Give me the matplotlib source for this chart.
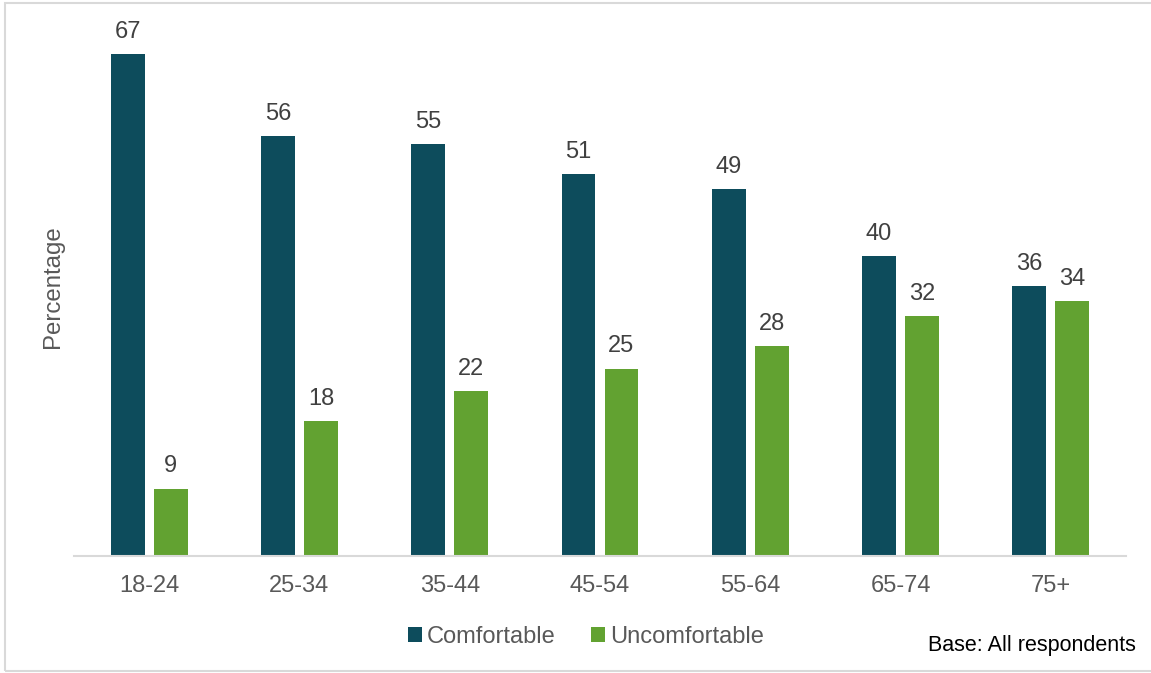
import matplotlib
matplotlib.use("Agg")
import matplotlib.pyplot as plt
from matplotlib.patches import Rectangle
import numpy as np

categories = ["18-24", "25-34", "35-44", "45-54", "55-64", "65-74", "75+"]
comfortable = [67, 56, 55, 51, 49, 40, 36]
uncomfortable = [9, 18, 22, 25, 28, 32, 34]
series_names = ["Comfortable", "Uncomfortable"]
colors = ["#0D4C5C", "#62A231"]

plt.rcParams['font.family'] = ['Liberation Sans', 'DejaVu Sans']

W, H = 1151, 673
fig = plt.figure(figsize=(W/100, H/100), dpi=100)
ax = fig.add_axes([74/W, 1-556/H, (1126-74)/W, (556-20.8)/H])

x = np.arange(len(categories))
off = 0.143
bw = 0.226
b1 = ax.bar(x - off, comfortable, bw, color=colors[0], label=series_names[0])
b2 = ax.bar(x + off, uncomfortable, bw, color=colors[1], label=series_names[1])
for bars, vals in ((b1, comfortable), (b2, uncomfortable)):
    for r, v in zip(bars, vals):
        ax.annotate(str(v), (r.get_x() + r.get_width()/2, r.get_height()),
                    xytext=(0, 8), textcoords='offset points',
                    ha='center', va='bottom', fontsize=17, color='#404040')

ax.set_xlim(-0.5, len(categories) - 0.5)
ax.set_ylim(0, 71.4)
ax.set_xticks(x)
ax.set_xticklabels(categories, fontsize=17, color='#595959')
ax.tick_params(axis='x', length=0, pad=14)
ax.set_yticks([])
for s in ['top', 'right', 'left']:
    ax.spines[s].set_visible(False)
ax.spines['bottom'].set_color('#D9D9D9')
ax.spines['bottom'].set_linewidth(1.5)
ax.set_ylabel('Percentage', fontsize=17.3, color='#595959')
ax.yaxis.set_label_coords(-10/(1126-74), (556-287)/(556-20.8))

leg = fig.legend(handles=[b1, b2], labels=series_names, loc='center',
                 bbox_to_anchor=(586/W, 1-637/H), ncol=2, frameon=False,
                 fontsize=17, handlelength=0.6, handleheight=0.6,
                 handletextpad=0.2, columnspacing=1.5, labelcolor='#595959')

fig.text(1136/W, 1-646/H, 'Base: All respondents', ha='right', va='center',
         fontsize=15.5, color='black')

fig.patches.append(Rectangle((5/W, 1-671/H), 1.2, (671-3)/H, transform=fig.transFigure,
                             fill=False, edgecolor='#D9D9D9', linewidth=1.5))

fig.savefig('out.png', dpi=100)
